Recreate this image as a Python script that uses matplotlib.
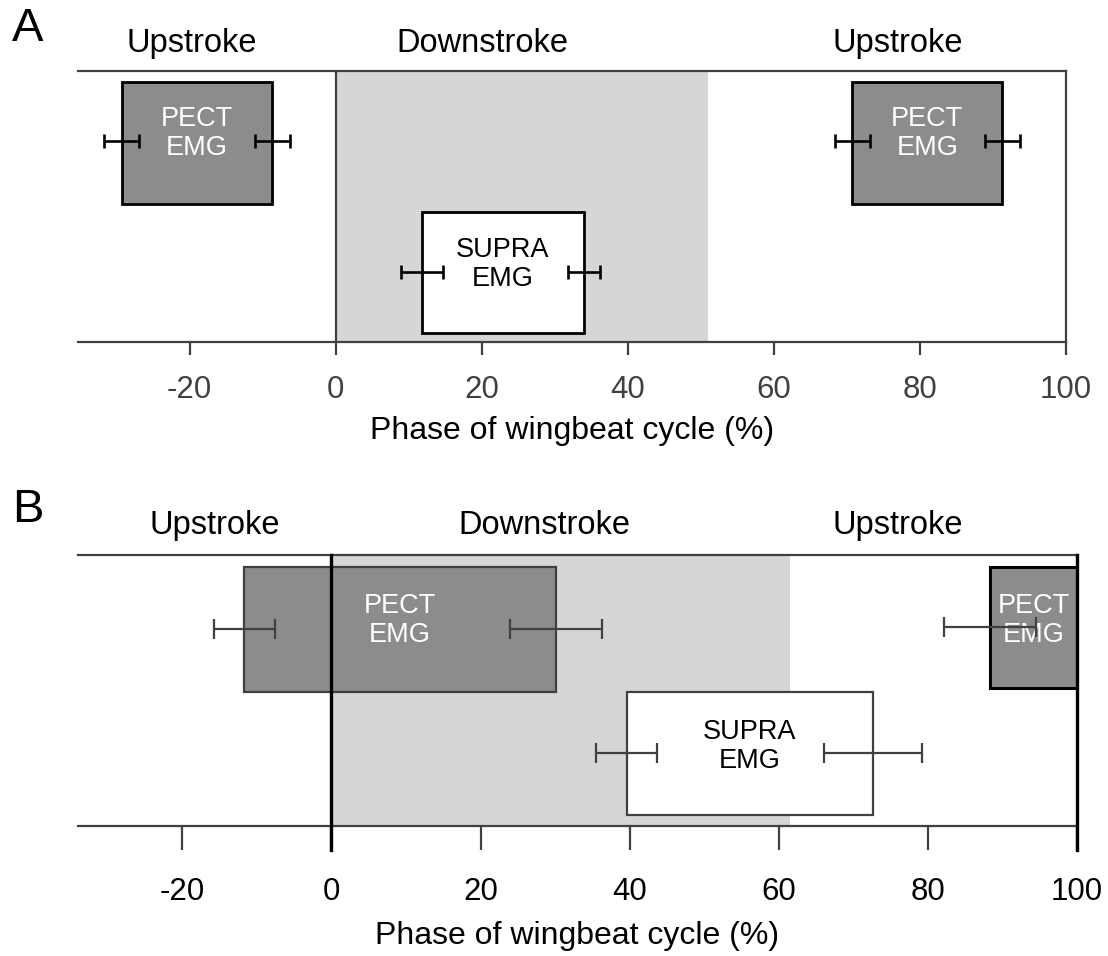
import matplotlib
matplotlib.use('Agg')
import matplotlib.pyplot as plt

plt.rcParams['font.family'] = ['Liberation Sans', 'DejaVu Sans']

# phase values (% of wingbeat cycle)
TICKS = [-20, 0, 20, 40, 60, 80, 100]
PHASES = ['Upstroke', 'Downstroke', 'Upstroke']

# panel A
A_DOWN_END = 51.0
A_PECT_ON, A_PECT_OFF = -29.3, -8.7
A_PECT_SD = [2.4, 2.4]
A_SUPRA_ON, A_SUPRA_OFF = 11.8, 34.0
A_SUPRA_SD = [2.9, 2.2]

# panel B
B_DOWN_END = 61.5
B_PECT_ON, B_PECT_OFF = -11.7, 30.1
B_PECT_SD = [4.1, 6.2]
B_SUPRA_ON, B_SUPRA_OFF = 39.6, 72.6
B_SUPRA_SD = [4.1, 6.6]
B_PECT_WRAP_SD = 6.2

DARK = '#404040'
PECT_FILL = '#8c8c8c'
SHADE = '#d6d6d6'
BOX_FS = 19.5


def box(ax, on, off, y0, y1, fill, edge, lw, label, tcolor, ty=None):
    ax.barh((y0 + y1) / 2, off - on, height=y1 - y0, left=on, color=fill,
            edgecolor=edge, linewidth=lw, zorder=3)
    if ty is None:
        ty = (y0 + y1) / 2
    ax.text((on + min(off, 100)) / 2, ty, label, ha='center', va='center',
            color=tcolor, fontsize=BOX_FS, linespacing=1.15, zorder=5)


def bars(ax, xs, sds, y, color, cap, lw):
    ax.errorbar(xs, [y] * len(xs), xerr=sds, fmt='none', ecolor=color,
                elinewidth=lw, capsize=cap, capthick=lw, zorder=6)


def setup(ax, xmin, tick_len, tick_pad, tick_color):
    ax.set_xlim(xmin, 100)
    ax.set_ylim(0, 1)
    ax.set_yticks([])
    ax.spines['left'].set_visible(False)
    for s in ['top', 'bottom', 'right']:
        ax.spines[s].set_color(DARK)
        ax.spines[s].set_linewidth(1.6)
    ax.set_xticks(TICKS)
    ax.set_xticklabels([str(t) for t in TICKS])
    ax.tick_params(axis='x', direction='out', length=tick_len, width=1.6,
                   color=DARK, pad=tick_pad, labelsize=22.5,
                   labelcolor=tick_color)


fig = plt.figure(figsize=(11.08, 9.56), dpi=100)

# ---- panel A ----
axA = fig.add_axes([78 / 1108, 1 - 342 / 956, 988 / 1108, 271 / 956])
setup(axA, -35.3, 9.5, 14, DARK)
axA.axvspan(0, A_DOWN_END, color=SHADE, lw=0, zorder=0)
axA.axvline(0, color=DARK, lw=1.6, zorder=1)
box(axA, A_PECT_ON, A_PECT_OFF, 0.509, 0.959, PECT_FILL, 'black', 2,
    'PECT\nEMG', 'white', ty=0.77)
box(axA, A_PECT_ON + 100, A_PECT_OFF + 100, 0.509, 0.959, PECT_FILL, 'black', 2,
    'PECT\nEMG', 'white', ty=0.77)
box(axA, A_SUPRA_ON, A_SUPRA_OFF, 0.033, 0.48, 'white', 'black', 2,
    'SUPRA\nEMG', 'black', ty=0.285)
bars(axA, [A_PECT_ON, A_PECT_OFF], A_PECT_SD, 0.742, 'black', 4.7, 1.9)
bars(axA, [A_PECT_ON + 100, A_PECT_OFF + 100], A_PECT_SD, 0.742, 'black', 4.7, 1.9)
bars(axA, [A_SUPRA_ON, A_SUPRA_OFF], A_SUPRA_SD, 0.258, 'black', 4.7, 1.9)
axA.set_xlabel('Phase of wingbeat cycle (%)', fontsize=23, labelpad=8)
for xp, name in zip([-19.7, 20.1, 77.0], PHASES):
    axA.text(xp, 1.10, name, ha='center', va='center', fontsize=23.5)
fig.text(28 / 1108, 1 - 29 / 956, 'A', ha='center', va='center', fontsize=34)

# ---- panel B ----
axB = fig.add_axes([78 / 1108, 1 - 826 / 956, 999 / 1108, 271 / 956])
setup(axB, -34, 17, 20, 'black')
axB.spines['right'].set_visible(False)
axB.axvspan(0, B_DOWN_END, color=SHADE, lw=0, zorder=0)
ext = -24 / 271
for xv in [0, 100]:
    axB.plot([xv, xv], [ext, 1], color='black', lw=2.4, clip_on=False, zorder=7)
box(axB, B_PECT_ON, B_PECT_OFF, 0.494, 0.956, PECT_FILL, DARK, 1.6,
    'PECT\nEMG', 'white', ty=0.757)
box(axB, B_SUPRA_ON, B_SUPRA_OFF, 0.041, 0.494, 'white', DARK, 1.6,
    'SUPRA\nEMG', 'black', ty=0.292)
# pectoralis burst wrapping past 100 %
axB.barh((0.509 + 0.956) / 2, 100 - (B_PECT_ON + 100), height=0.956 - 0.509,
         left=B_PECT_ON + 100, color=PECT_FILL, edgecolor='black', linewidth=2.2,
         zorder=3)
axB.text((B_PECT_ON + 200) / 2, 0.76, 'PECT\nEMG', ha='center', va='center',
         color='white', fontsize=BOX_FS, linespacing=1.15, zorder=5)
bars(axB, [B_PECT_ON, B_PECT_OFF], B_PECT_SD, 0.727, DARK, 7.5, 1.6)
bars(axB, [B_SUPRA_ON, B_SUPRA_OFF], B_SUPRA_SD, 0.269, DARK, 7.5, 1.6)
bars(axB, [B_PECT_ON + 100], [B_PECT_WRAP_SD], 0.734, DARK, 7.5, 1.6)
axB.set_xlabel('Phase of wingbeat cycle (%)', fontsize=23, labelpad=10)
for xp, name in zip([-15.6, 28.5, 76.0], PHASES):
    axB.text(xp, 1.11, name, ha='center', va='center', fontsize=23.5)
fig.text(28 / 1108, 1 - 510 / 956, 'B', ha='center', va='center', fontsize=34)

fig.savefig('out.png', dpi=100)
